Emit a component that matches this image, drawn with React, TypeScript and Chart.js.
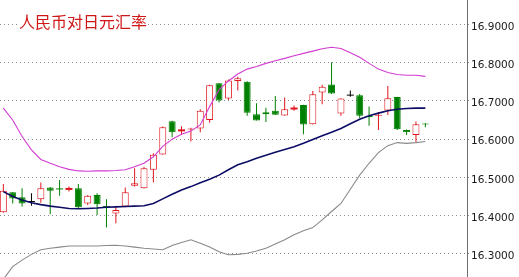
import React, { useEffect, useRef } from "react";
import { Chart, registerables } from "chart.js";

Chart.register(...registerables);

const titleText = "人民币对日元汇率";

// OHLC per trading day (46 candles)
const opens = [
  16.409, 16.461, 16.448, 16.437, 16.443, 16.474, 16.471, 16.469, 16.472, 16.432,
  16.454, 16.425, 16.406, 16.424, 16.478, 16.472, 16.520, 16.560, 16.647, 16.622,
  16.625, 16.628, 16.650, 16.746, 16.706, 16.752, 16.750, 16.665, 16.670, 16.674,
  16.662, 16.679, 16.689, 16.639, 16.722, 16.743, 16.667, 16.715, 16.715, 16.660,
  16.661, 16.675, 16.710, 16.624, 16.611, 16.641,
];
const highs = [
  16.483, 16.462, 16.472, 16.459, 16.487, 16.475, 16.493, 16.476, 16.483, 16.454,
  16.459, 16.443, 16.424, 16.474, 16.524, 16.528, 16.563, 16.633, 16.648, 16.634,
  16.630, 16.678, 16.742, 16.747, 16.756, 16.763, 16.751, 16.694, 16.682, 16.713,
  16.709, 16.688, 16.690, 16.726, 16.742, 16.801, 16.707, 16.727, 16.718, 16.685,
  16.670, 16.739, 16.711, 16.625, 16.646, 16.642,
];
const lows = [
  16.408, 16.432, 16.424, 16.426, 16.434, 16.404, 16.452, 16.463, 16.419, 16.428,
  16.402, 16.369, 16.380, 16.422, 16.476, 16.471, 16.487, 16.559, 16.605, 16.611,
  16.594, 16.618, 16.643, 16.696, 16.702, 16.727, 16.661, 16.649, 16.645, 16.663,
  16.661, 16.674, 16.613, 16.638, 16.691, 16.718, 16.661, 16.711, 16.654, 16.635,
  16.624, 16.663, 16.624, 16.611, 16.592, 16.631,
];
const closes = [
  16.465, 16.445, 16.432, 16.437, 16.472, 16.465, 16.470, 16.470, 16.422, 16.452,
  16.430, 16.424, 16.415, 16.461, 16.485, 16.524, 16.559, 16.631, 16.618, 16.623,
  16.628, 16.674, 16.741, 16.701, 16.753, 16.759, 16.669, 16.649, 16.665, 16.664,
  16.678, 16.680, 16.638, 16.717, 16.737, 16.719, 16.706, 16.715, 16.661, 16.659,
  16.663, 16.707, 16.626, 16.618, 16.639, 16.638,
];

// Bollinger middle line (moving average)
const maLine = [
  16.463, 16.450, 16.441, 16.434, 16.429, 16.425, 16.422, 16.419, 16.418, 16.419,
  16.420, 16.422, 16.423, 16.424, 16.425, 16.426, 16.432, 16.444, 16.456, 16.467,
  16.476, 16.486, 16.495, 16.506, 16.520, 16.533, 16.541, 16.550, 16.558, 16.566,
  16.573, 16.580, 16.589, 16.599, 16.609, 16.618, 16.628, 16.640, 16.652, 16.661,
  16.668, 16.674, 16.678, 16.680, 16.681, 16.681,
];
// Bollinger upper band
const upperBand = [
  16.681, 16.650, 16.607, 16.572, 16.547, 16.537, 16.528, 16.521, 16.517, 16.516,
  16.517, 16.517, 16.518, 16.520, 16.528, 16.537, 16.554, 16.581, 16.600, 16.613,
  16.621, 16.637, 16.685, 16.729, 16.752, 16.770, 16.783, 16.790, 16.798, 16.805,
  16.811, 16.818, 16.824, 16.830, 16.836, 16.840, 16.837, 16.826, 16.814, 16.798,
  16.783, 16.774, 16.769, 16.767, 16.767, 16.764,
];
// Bollinger lower band
const lowerBand = [
  16.234, 16.267, 16.284, 16.299, 16.311, 16.315, 16.318, 16.321, 16.321, 16.321,
  16.321, 16.322, 16.323, 16.321, 16.318, 16.315, 16.313, 16.311, 16.322, 16.330,
  16.337, 16.328, 16.318, 16.306, 16.298, 16.299, 16.302, 16.308, 16.315, 16.326,
  16.337, 16.350, 16.361, 16.369, 16.389, 16.411, 16.432, 16.469, 16.506, 16.537,
  16.565, 16.583, 16.591, 16.589, 16.591, 16.594,
];

const yTicks = [16.3, 16.4, 16.5, 16.6, 16.7, 16.8, 16.9];

const RED = "#e0141c";
const GREEN = "#008000";
const BLACK = "#000000";

export default function App() {
  const canvasRef = useRef<HTMLCanvasElement>(null);

  useEffect(() => {
    document.body.style.margin = "0";
    const canvas = canvasRef.current;
    if (!canvas) return;

    const idx = opens.map((_, i) => i);
    const isCross = (i: number) => Math.abs(closes[i] - opens[i]) < 0.0015;
    const colorOf = (i: number) =>
      closes[i] > opens[i] ? RED : closes[i] < opens[i] ? GREEN : BLACK;

    const wickData = idx.map((i) => ({ x: i, y: [lows[i], highs[i]] }));
    const wickColors = idx.map(colorOf);

    const bodyIdx = idx.filter((i) => !isCross(i));
    const bodyData = bodyIdx.map((i) => ({
      x: i,
      y: [Math.min(opens[i], closes[i]), Math.max(opens[i], closes[i])],
    }));
    const bodyFill = bodyIdx.map((i) => (closes[i] > opens[i] ? "#ffffff" : GREEN));
    const bodyBorder = bodyIdx.map(colorOf);

    const crossIdx = idx.filter(isCross);
    const crossData = crossIdx.map((i) => ({ x: i, y: closes[i] }));
    const crossColors = crossIdx.map(colorOf);
    const crossWidths = crossIdx.map((i) => (colorOf(i) === RED ? 2 : 1));

    const chart = new Chart(canvas, {
      type: "bar",
      data: {
        datasets: [
          {
            type: "line",
            data: maLine.map((v, i) => ({ x: i, y: v })),
            borderColor: "#0c0c66",
            borderWidth: 1.6,
            pointRadius: 0,
            tension: 0,
            order: 0,
          } as any,
          {
            type: "line",
            data: upperBand.map((v, i) => ({ x: i, y: v })),
            borderColor: "#d23cd2",
            borderWidth: 1.1,
            pointRadius: 0,
            tension: 0,
            order: 0,
          } as any,
          {
            type: "line",
            data: lowerBand.map((v, i) => ({ x: i, y: v })),
            borderColor: "#8a8a8a",
            borderWidth: 1.1,
            pointRadius: 0,
            tension: 0,
            order: 0,
          } as any,
          {
            type: "line",
            data: crossData,
            showLine: false,
            pointStyle: "line",
            pointRadius: 3.5,
            pointHoverRadius: 3.5,
            pointBorderColor: crossColors,
            pointBorderWidth: crossWidths,
            order: 1,
          } as any,
          {
            type: "bar",
            data: bodyData,
            backgroundColor: bodyFill,
            borderColor: bodyBorder,
            borderWidth: 1,
            borderSkipped: false,
            barThickness: 7,
            grouped: false,
            inflateAmount: 0,
            order: 2,
          } as any,
          {
            type: "bar",
            data: wickData,
            backgroundColor: wickColors,
            borderWidth: 0,
            barThickness: 1,
            grouped: false,
            inflateAmount: 0,
            order: 3,
          } as any,
        ],
      },
      options: {
        animation: false,
        responsive: false,
        maintainAspectRatio: false,
        layout: { padding: 0, autoPadding: false },
        plugins: {
          legend: { display: false },
          tooltip: { enabled: false },
          title: { display: false },
        },
        scales: {
          x: {
            type: "linear",
            display: false,
            offset: false,
            bounds: "data",
            grid: { offset: false },
            min: -0.355,
            max: 49.442,
          },
          y: {
            type: "linear",
            position: "right",
            min: 16.2399,
            max: 16.9635,
            afterBuildTicks: (scale: any) => {
              scale.ticks = yTicks.map((v) => ({ value: v }));
            },
            afterFit: (scale: any) => {
              scale.width = 52;
              scale.paddingTop = 0;
              scale.paddingBottom = 0;
            },
            grid: {
              color: "#8c8c8c",
              lineWidth: 1,
              drawTicks: true,
              tickLength: 3,
              tickColor: "#8c8c8c",
              tickBorderDash: [1, 3],
            },
            border: {
              display: true,
              color: "#6e6e6e",
              width: 1,
              dash: [1, 3],
            },
            ticks: {
              padding: 1,
              labelOffset: 2.5,
              color: "#1a1a1a",
              font: { family: "DejaVu Sans", size: 10.5 },
              callback: (v: any) => Number(v).toFixed(4),
            },
          },
        },
      } as any,
    });

    return () => chart.destroy();
  }, []);

  return (
    <div style={{ position: "relative", width: 519, height: 277, background: "#ffffff" }}>
      <canvas ref={canvasRef} width={519} height={277} style={{ display: "block" }} />
      <div
        style={{
          position: "absolute",
          left: 18,
          top: 13,
          padding: "0 1px",
          background: "#ffffff",
          color: "#d01818",
          fontFamily: '"Noto Sans CJK SC", sans-serif',
          fontSize: 16,
          lineHeight: "17px",
          whiteSpace: "nowrap",
        }}
      >
        {titleText}
      </div>
    </div>
  );
}
